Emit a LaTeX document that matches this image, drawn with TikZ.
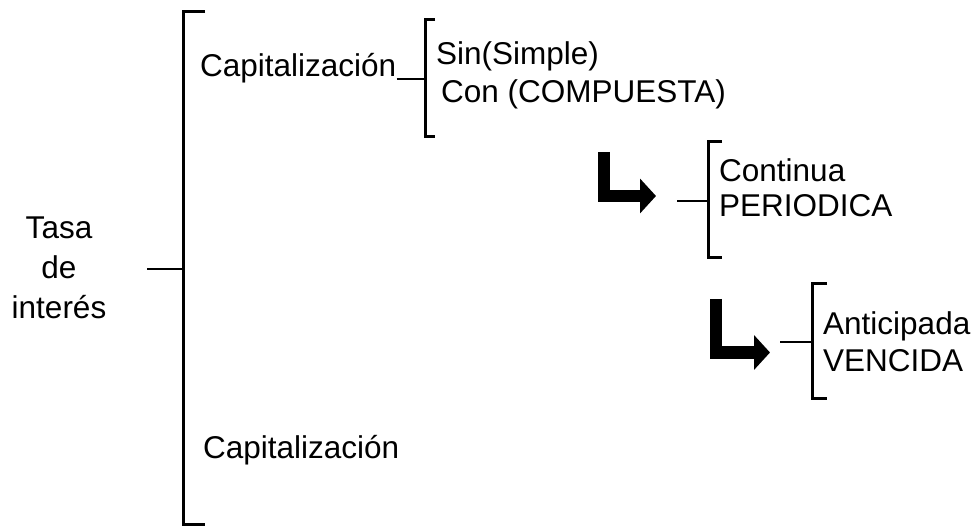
\documentclass[tikz,border=0pt]{standalone}
\usepackage{fontspec}
\setmainfont{Liberation Sans}
\usetikzlibrary{arrows.meta}

\tikzset{
  txt/.style={anchor=base west, inner sep=0pt, font=\fontsize{31.5}{40}\selectfont},
  brace/.style={line width=3pt},
  stub/.style={line width=2.5pt},
  elbow/.style={line width=12pt, -{Triangle[length=16pt,width=34pt]}},
}

\begin{document}
\begin{tikzpicture}[x=1pt,y=-1pt]
  \useasboundingbox (0,0) rectangle (974,526);
  % root and main bracket
  \node[txt, anchor=center, align=center] (tasa) at (59,268) {Tasa\\de\\interés};
  \coordinate (tasa-out) at (147,269);
  \coordinate (br1) at (183,269);
  \draw[brace] (205,12) -- (183,12) -- (183,524) -- (205,524);
  \draw[stub] (tasa-out) -- (br1);

  % capitalizacion, sin / con
  \node[txt] (cap1) at (200,77) {Capitalización};
  \node[txt] (cap2) at (203,458) {Capitalización};
  \coordinate (br2) at (425,79);
  \draw[brace] (435,20) -- (425,20) -- (425,137) -- (435,137);
  \draw[stub] (cap1.base east |- br2) -- (br2);
  \node[txt] (sin) at (436,65) {Sin(Simple)};
  \node[txt] (con) at (441,103) {Con (COMPUESTA)};

  % continua / periodica
  \draw[elbow] (603.5,152) -- (603.5,196) -- (656,196);
  \coordinate (per-in) at (677,201);
  \coordinate (br3) at (708,201);
  \draw[brace] (722,142) -- (708,142) -- (708,258) -- (722,258);
  \draw[stub] (per-in) -- (br3);
  \node[txt] (cont) at (719,182) {Continua};
  \node[txt] (peri) at (719,217) {PERIODICA};

  % anticipada / vencida
  \draw[elbow] (716,299) -- (716,352.5) -- (770,352.5);
  \coordinate (ven-in) at (780,342);
  \coordinate (br4) at (812,342);
  \draw[brace] (827,284) -- (812,284) -- (812,398) -- (827,398);
  \draw[stub] (ven-in) -- (br4);
  \node[txt] (anti) at (823,335) {Anticipada};
  \node[txt] (venc) at (823,371) {VENCIDA};
\end{tikzpicture}
\end{document}
